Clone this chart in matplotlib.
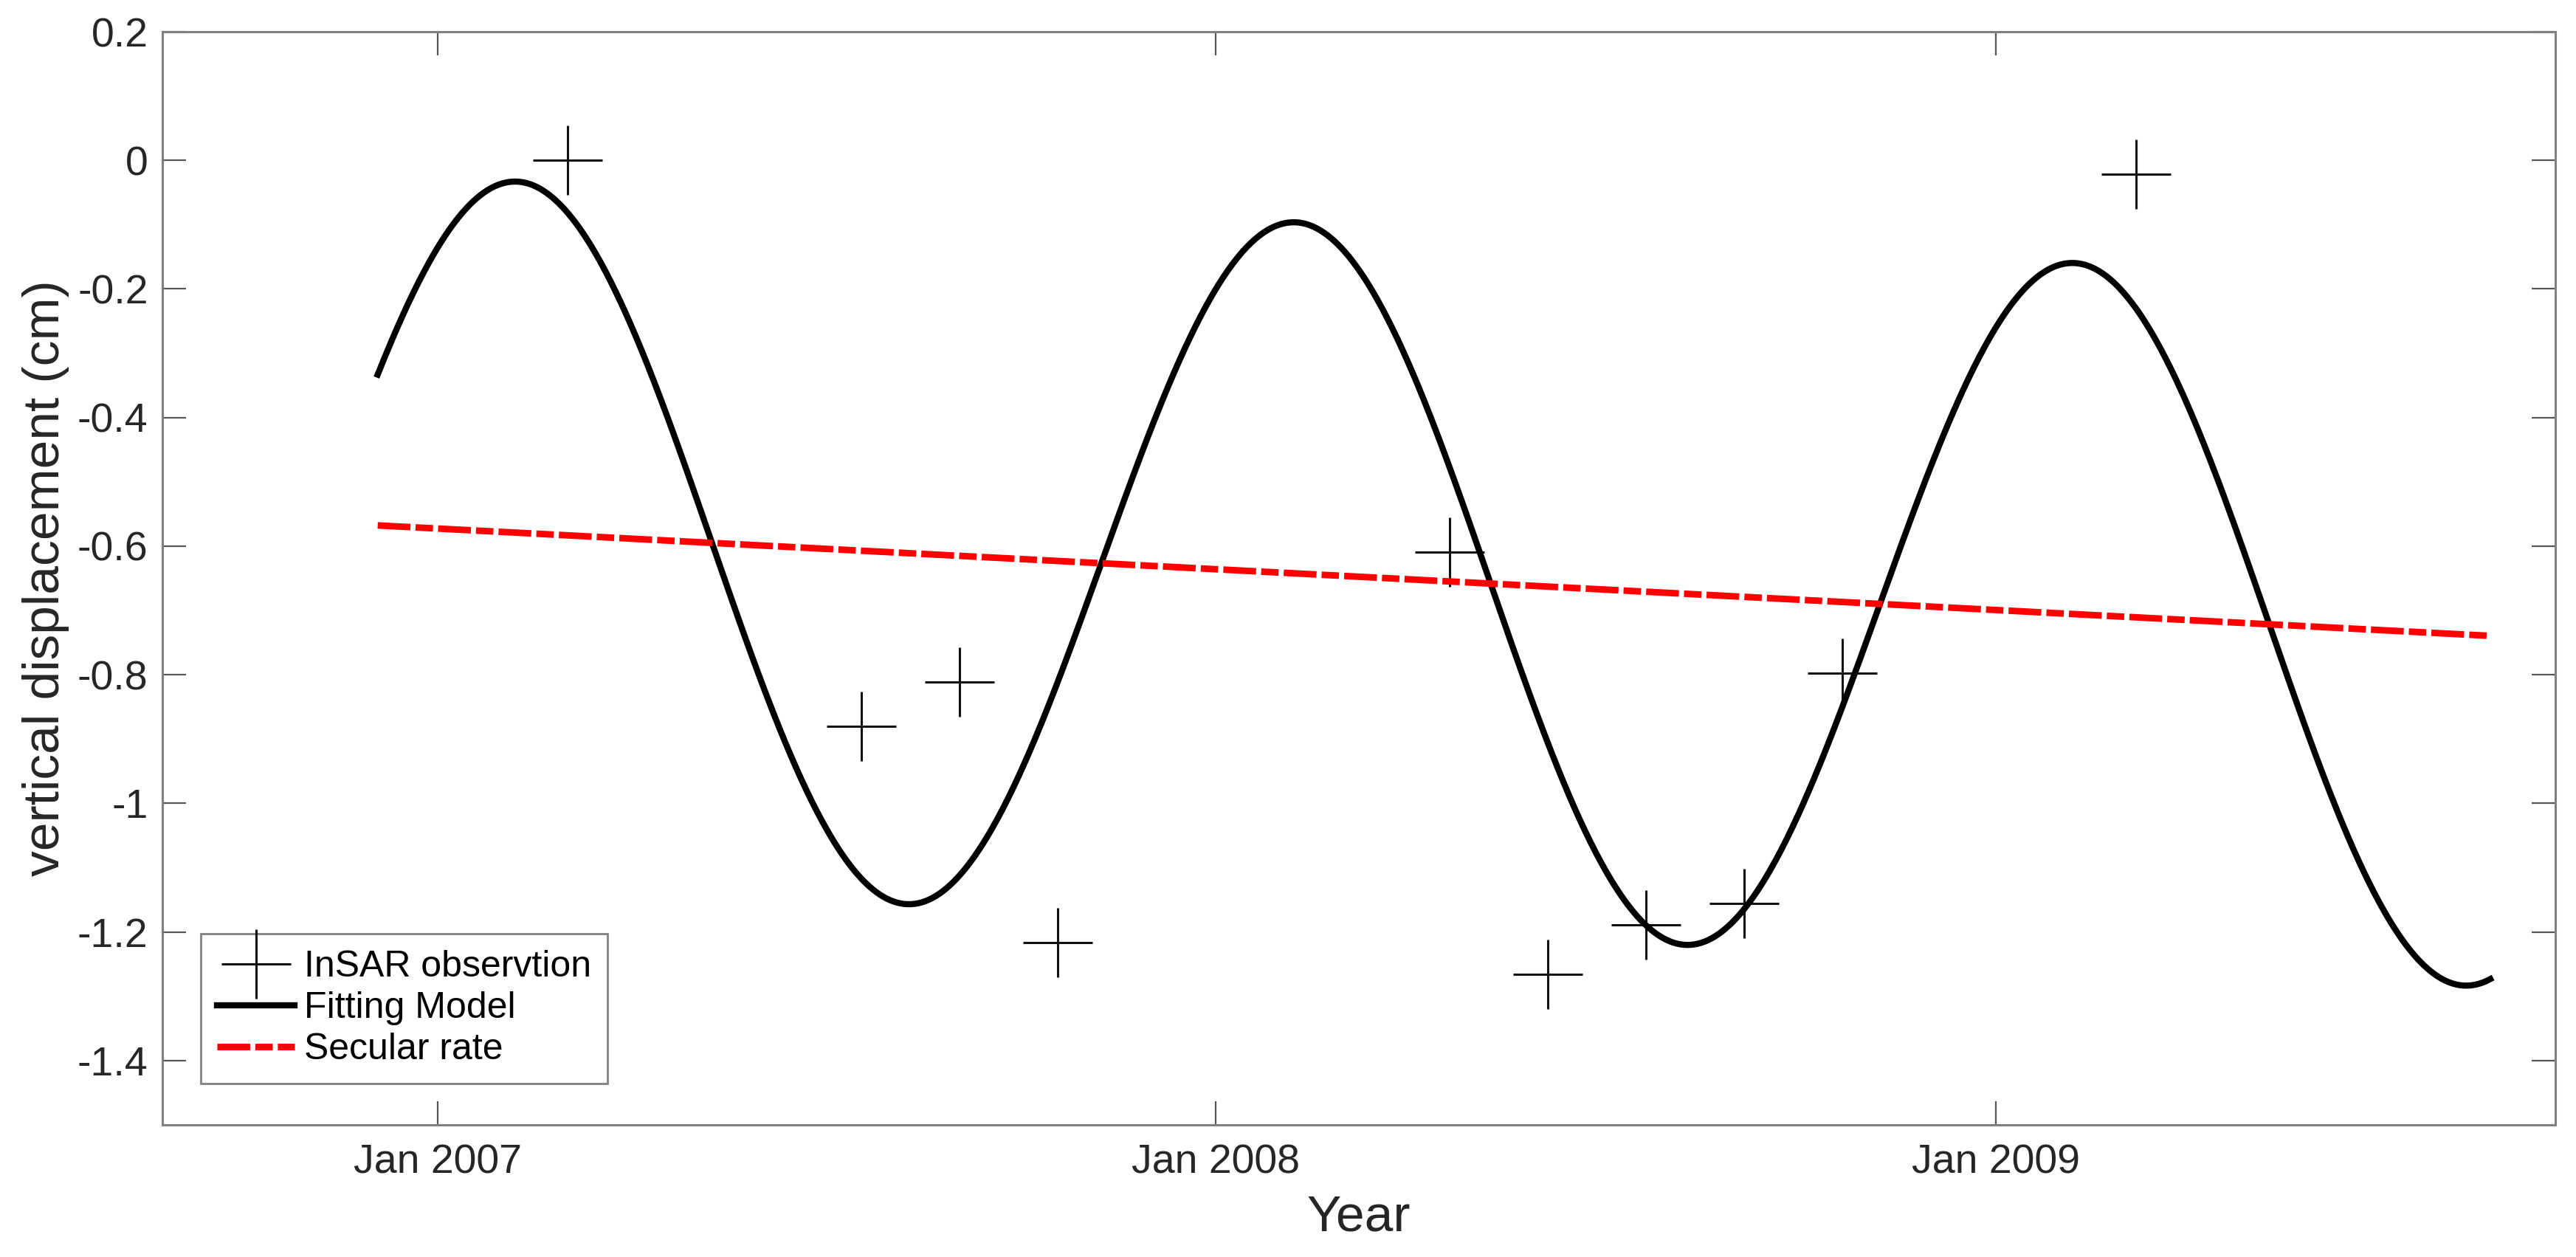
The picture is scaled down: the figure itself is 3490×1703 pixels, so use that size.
import numpy as np
import matplotlib
matplotlib.use("Agg")
import matplotlib.pyplot as plt
import matplotlib.dates as mdates

plt.rcParams["font.family"] = ["Liberation Sans", "DejaVu Sans"]
plt.rcParams["axes.unicode_minus"] = False
plt.rcParams["lines.scale_dashes"] = False

### data ###

# InSAR acquisitions (46 day repeat) and displacement in cm
obs_dates = np.array(["2007-03-03", "2007-07-19", "2007-09-03", "2007-10-19",
                      "2008-04-20", "2008-06-05", "2008-07-21", "2008-09-05",
                      "2008-10-21", "2009-03-08"], dtype="datetime64[D]")
obs_disp = np.array([0.0, -0.880, -0.811, -1.217, -0.609,
                     -1.266, -1.189, -1.156, -0.798, -0.022])

# fitting model: secular rate + annual term
model_start = np.datetime64("2006-12-04")
model_end = np.datetime64("2009-08-21")
ref_date = np.datetime64("2007-01-01")
secular_offset = -0.5726   # cm at ref_date
secular_rate = -0.0633     # cm / yr
seasonal_amp = 0.546       # cm
seasonal_peak = 37.5       # days after ref_date

tick_dates = np.array(["2007-01-01", "2008-01-01", "2009-01-01"], dtype="datetime64[D]")
tick_labels = ["Jan 2007", "Jan 2008", "Jan 2009"]
y_ticks = [-1.4, -1.2, -1.0, -0.8, -0.6, -0.4, -0.2, 0.0, 0.2]
y_labels = ["-1.4", "-1.2", "-1", "-0.8", "-0.6", "-0.4", "-0.2", "0", "0.2"]

### model ###

t = np.linspace(mdates.date2num(model_start), mdates.date2num(model_end), 1200)
ref = mdates.date2num(ref_date)
secular = secular_offset + secular_rate*(t - ref)/365.25
model = secular + seasonal_amp*np.cos(2*np.pi*(t - ref - seasonal_peak)/365.25)

### plot ###

fig = plt.figure(figsize=(3491/200, 1703/200), dpi=200)
ax = fig.add_axes([220/3491, 1 - 1524/1703, (3462 - 220)/3491, (1524 - 43)/1703])

ax.plot(mdates.date2num(obs_dates), obs_disp, "+", ms=34, mew=1.1, color="#111111",
        label="InSAR observtion")
ax.plot(t, model, "-", lw=3.0, color="black", label="Fitting Model")
ax.plot(t, secular, color="red", lw=3.2, dashes=(16, 2.5, 8.5, 2.5),
        label="Secular rate")

ax.set_xlim(mdates.date2num(np.datetime64("2006-08-25")),
            mdates.date2num(np.datetime64("2009-09-20")) + 0.5)
ax.set_ylim(-1.5, 0.2)
ax.set_xticks(mdates.date2num(tick_dates))
ax.set_xticklabels(tick_labels)
ax.set_yticks(y_ticks)
ax.set_yticklabels(y_labels)

ax.tick_params(direction="in", length=11.5, width=0.8, color="#555555",
               labelcolor="#262626", labelsize=20, top=True, right=True, pad=7)
ax.tick_params(axis="x", pad=9)
for s in ax.spines.values():
    s.set_color("#808080")
    s.set_linewidth(1.1)

ax.set_xlabel("Year", fontsize=25, color="#262626", labelpad=6)
ax.set_ylabel("vertical displacement (cm)", fontsize=25, color="#262626", labelpad=4)

leg = ax.legend(loc="lower left", bbox_to_anchor=(0.016, 0.038), borderaxespad=0,
                fontsize=18, fancybox=False, framealpha=1, edgecolor="#808080",
                handlelength=2.1, handletextpad=0.25, labelspacing=0.2, borderpad=0.45)
leg.get_frame().set_linewidth(1.0)

fig.savefig("out.png", dpi=200)
